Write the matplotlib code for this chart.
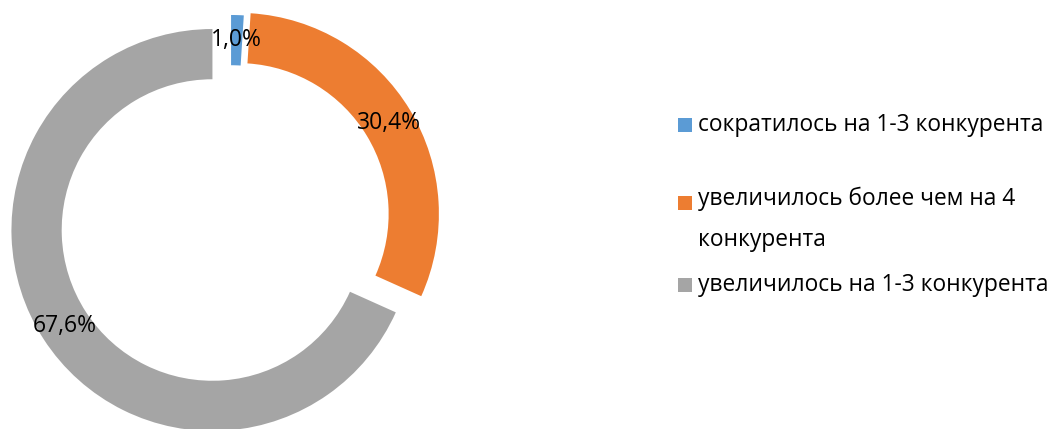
import matplotlib.pyplot as plt
from matplotlib.patches import Rectangle

# data
categories = ['сократилось на 1-3 конкурента',
              'увеличилось более чем на 4\nконкурента',
              'увеличилось на 1-3 конкурента']
shares = [1.0, 30.4, 67.6]
colors = ['#5B9BD5', '#ED7D31', '#A5A5A5']

plt.rcParams['font.family'] = ['Open Sans', 'DejaVu Sans']

W, H = 1055, 429
fig = plt.figure(figsize=(W / 100, H / 100), dpi=100)
ax = fig.add_axes([0, 0, 1, 1])

# pie sized in pixels: radius 201 px, centre at (231, 218) from top-left
R = 201.0
cx, cy = 231.0, 218.0

pct_labels = [f'{v:.1f}%'.replace('.', ',') for v in shares]
wedges, texts = ax.pie(
    shares,
    colors=colors,
    startangle=90,
    counterclock=False,
    explode=[0.01, 0.04, 0.11],
    radius=1.0,
    wedgeprops=dict(width=0.25, edgecolor='none'),
    labels=pct_labels,
    labeldistance=0.875,
    textprops=dict(fontsize=16.5, color='black'),
)
for t in texts:
    t.set_ha('center')
    t.set_va('center')

ax.set_xlim(-cx / R, (W - cx) / R)
ax.set_ylim(-(H - cy) / R, cy / R)
ax.set_aspect('equal')
ax.axis('off')

# legend, drawn by hand to keep Excel-like spacing
leg_y = [125, 203, 285]  # marker centres, px from top
for lab, col, y in zip(categories, colors, leg_y):
    yf = 1 - y / H
    fig.patches.append(Rectangle((678 / W, yf - 7 / H), 14 / W, 14 / H,
                                 transform=fig.transFigure, facecolor=col,
                                 edgecolor='none'))
    if '\n' in lab:
        fig.text(698 / W, yf + 16 / H, lab, fontsize=16.4, va='top', ha='left',
                 linespacing=1.95)
    else:
        fig.text(698 / W, yf, lab, fontsize=16.4, va='center', ha='left')

fig.savefig('out.png', dpi=100)
